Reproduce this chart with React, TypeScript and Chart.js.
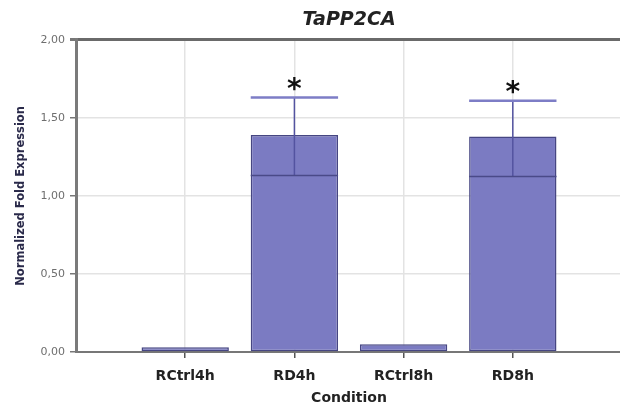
import { useEffect, useRef } from 'react';
import { Chart, registerables } from 'chart.js';

Chart.register(...registerables);

// Conditions on the x axis and the measured normalized fold expression
const categories = ['RCtrl4h', 'RD4h', 'RCtrl8h', 'RD8h'];
const expression = [0.03, 1.39, 0.05, 1.38];
const errorLow: (number | null)[] = [null, 1.13, null, 1.125];
const errorHigh: (number | null)[] = [null, 1.63, null, 1.61];
const significance = ['', '*', '', '*'];

const FONT = '"DejaVu Sans", Verdana, sans-serif';

// Draws the error range (stem, upper cap, lower line) and the significance marks
const errorBars = {
  id: 'errorBars',
  afterDatasetsDraw(chart: any) {
    const meta = chart.getDatasetMeta(0);
    const yScale = chart.scales.y;
    const ctx = chart.ctx as CanvasRenderingContext2D;
    ctx.save();
    meta.data.forEach((bar: any, i: number) => {
      const hi = errorHigh[i];
      const lo = errorLow[i];
      const { x, width } = bar.getProps(['x', 'width'], true);
      const half = width / 2;
      if (hi != null && lo != null) {
        const yHi = yScale.getPixelForValue(hi);
        const yLo = yScale.getPixelForValue(lo);
        ctx.lineCap = 'butt';
        ctx.strokeStyle = '#5353a0';
        ctx.lineWidth = 1.5;
        ctx.beginPath();
        ctx.moveTo(x, yHi);
        ctx.lineTo(x, yLo);
        ctx.stroke();

        ctx.strokeStyle = '#7d7dc6';
        ctx.lineWidth = 2.5;
        ctx.beginPath();
        ctx.moveTo(x - half, yHi);
        ctx.lineTo(x + half, yHi);
        ctx.stroke();

        ctx.strokeStyle = '#4a4a88';
        ctx.lineWidth = 1.5;
        ctx.beginPath();
        ctx.moveTo(x - half, yLo);
        ctx.lineTo(x + half, yLo);
        ctx.stroke();

        if (significance[i]) {
          ctx.fillStyle = '#111';
          ctx.font = `bold 28px ${FONT}`;
          ctx.textAlign = 'center';
          ctx.textBaseline = 'alphabetic';
          ctx.fillText(significance[i], x, yHi);
        }
      }
    });
    ctx.restore();
  },
};

export default function App() {
  const canvasRef = useRef<HTMLCanvasElement | null>(null);

  useEffect(() => {
    const canvas = canvasRef.current;
    if (!canvas) return;
    const chart = new Chart(canvas, {
      type: 'bar',
      data: {
        datasets: [
          {
            data: categories.map((_, i) => ({ x: i + 1, y: expression[i] })),
            backgroundColor: '#7b7bc2',
            borderColor: '#464682',
            borderWidth: 1.5,
            borderSkipped: false,
            barPercentage: 0.8,
            categoryPercentage: 1,
          },
        ],
      },
      options: {
        responsive: false,
        animation: false,
        devicePixelRatio: 1,
        layout: { padding: { left: 0, right: 4, top: 0, bottom: 0 } },
        plugins: {
          legend: { display: false },
          tooltip: { enabled: false },
          title: {
            display: true,
            fullSize: false,
            text: 'TaPP2CA',
            color: '#222',
            font: { family: FONT, size: 19, weight: 'bold', style: 'italic' },
            padding: { top: 9, bottom: 8 },
          },
        },
        scales: {
          x: {
            type: 'linear',
            min: 0,
            max: 5,
            offset: false,
            afterBuildTicks: (s: any) => {
              s.ticks = categories.map((_, i) => ({ value: i + 1 }));
            },
            afterFit: (s: any) => {
              s.height = 58;
            },
            ticks: {
              autoSkip: false,
              maxRotation: 0,
              padding: 10,
              color: '#222',
              font: { family: FONT, size: 14, weight: 'bold' },
              callback: (v: any) => categories[Number(v) - 1] ?? '',
            },
            grid: {
              offset: false,
              color: '#e3e3e3',
              lineWidth: 1.5,
              tickLength: 6,
              tickColor: '#555',
            },
            border: { color: '#777', width: 2 },
            title: {
              display: true,
              text: 'Condition',
              color: '#222',
              font: { family: FONT, size: 14, weight: 'bold' },
              padding: { top: 0, bottom: 3 },
            },
          },
          y: {
            min: 0,
            max: 2,
            afterFit: (s: any) => {
              s.width = 76;
            },
            ticks: {
              stepSize: 0.5,
              padding: 5,
              color: '#6e6e6e',
              font: { family: FONT, size: 11 },
              callback: (v: any) => Number(v).toFixed(2).replace('.', ','),
            },
            grid: {
              color: (c: any) => (c.tick && c.tick.value === 2 ? '#6a6a6a' : '#e3e3e3'),
              lineWidth: (c: any) => (c.tick && c.tick.value === 2 ? 3 : 1.5),
              tickLength: 6,
              tickColor: '#777',
            },
            border: { color: '#7a7a7a', width: 3 },
            title: {
              display: true,
              text: 'Normalized Fold Expression',
              color: '#2a2a4a',
              font: { family: FONT, size: 11.5, weight: 'bold' },
              padding: { top: 14, bottom: 0 },
            },
          },
        },
      },
      plugins: [errorBars],
    } as any);
    return () => chart.destroy();
  }, []);

  return (
    <div
      style={{
        position: 'fixed',
        left: 0,
        top: 0,
        width: 620,
        height: 410,
        overflow: 'hidden',
        background: '#fff',
      }}
    >
      <canvas ref={canvasRef} width={626} height={410} style={{ display: 'block' }} />
    </div>
  );
}
